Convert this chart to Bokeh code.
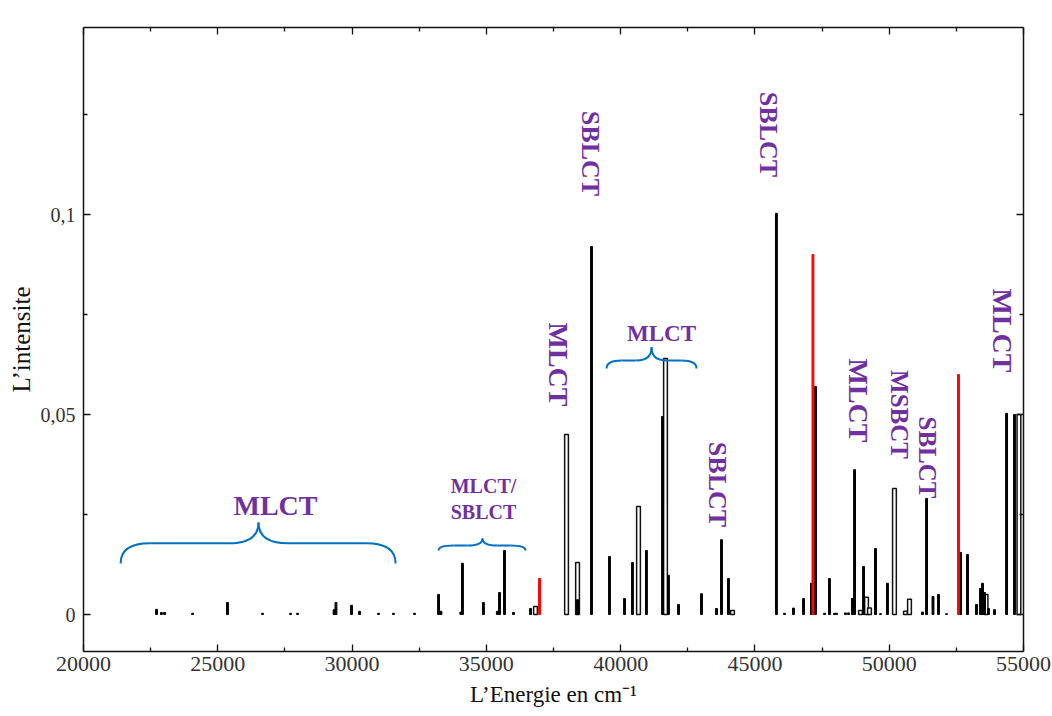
import math
from bokeh.plotting import figure
from bokeh.models import LinearAxis, FixedTicker, Range1d, ColumnDataSource, CustomJSTickFormatter
from bokeh.core.properties import value
from bokeh.embed import file_html
from bokeh.resources import INLINE

# ---------------- data ----------------
black_E = [22720, 22900, 23020, 24060, 25360, 26665, 27710, 27970, 29330, 29400,
           29980, 30275, 30985, 31540, 32325,
           33220, 33310, 34050, 34110, 34890, 35410, 35490, 35675, 36010, 36645,
           38395, 38915, 39585, 40145, 40440, 40960, 41560, 41780, 42155, 43010,
           43570, 43755, 44015,
           45800, 46100, 46435, 46810, 47105, 47255, 47590, 47775, 47965, 48040,
           48370, 48485, 48630, 48710, 49045, 49490, 49675, 49935, 51240, 51390,
           51630, 51835, 52135, 52655, 52915, 53250, 53400, 53475, 53550, 53695,
           53920, 54370, 54665]
black_I = [0.0013, 0.0005, 0.0005, 0.0003, 0.003, 0.0003, 0.0003, 0.0003, 0.0012, 0.003,
           0.0023, 0.0008, 0.0003, 0.0003, 0.0003,
           0.005, 0.0008, 0.0006, 0.0128, 0.003, 0.0008, 0.0055, 0.016, 0.0005, 0.0015,
           0.0037, 0.092, 0.0145, 0.004, 0.013, 0.016, 0.0495, 0.0098, 0.0025, 0.0052,
           0.0015, 0.0187, 0.009,
           0.1003, 0.0003, 0.0016, 0.004, 0.0078, 0.057, 0.0003, 0.009, 0.0003, 0.0003,
           0.0004, 0.0004, 0.004, 0.0362, 0.012, 0.0165, 0.0002, 0.0078, 0.0006, 0.029,
           0.0045, 0.005, 0.0002, 0.0155, 0.015, 0.0025, 0.0065, 0.0078, 0.0055, 0.0015,
           0.0012, 0.0503, 0.05]

open_E = [36830, 37985, 38395, 40665, 41670, 44165, 48930, 49155, 49265, 50195,
          50605, 50755, 53605, 54830]
open_I = [0.002, 0.045, 0.013, 0.027, 0.064, 0.001, 0.001, 0.0043, 0.0016, 0.0315,
          0.0008, 0.0038, 0.005, 0.05]

red_E = [36980, 47160, 52580]
red_I = [0.009, 0.09, 0.06]

x_ticks = [20000, 25000, 30000, 35000, 40000, 45000, 50000, 55000]
x_minor = [22500, 27500, 32500, 37500, 42500, 47500, 52500]
y_ticks = [0, 0.05, 0.1]
y_minor = [0.025, 0.075, 0.125]

x_title = "L’Energie en cm⁻¹"
y_title = "L’intensite"

# annotation texts
ann_text = ["MLCT", "MLCT/\nSBLCT", "MLCT", "SBLCT", "MLCT", "SBLCT", "SBLCT",
            "MLCT", "MSBCT", "SBLCT", "MLCT"]
ann_x = [27149, 34894, 37686, 38878, 41521, 43607, 45505, 48856, 50383, 51426, 54218]
ann_y = [0.02725, 0.0288, 0.0625, 0.11525, 0.07025, 0.0325, 0.12, 0.0535, 0.05, 0.03925, 0.071]
ann_rot = [0, 0, 1, 1, 0, 1, 1, 1, 1, 1, 1]
ann_size = ["28px", "20px", "28px", "26px", "23px", "26px", "26px", "28px", "25px", "25px", "28px"]

# braces: left, right, centre, end y, mid y, tip y, curl length
br_l = [21380, 33220, 39475]
br_r = [31620, 36460, 42825]
br_c = [26515, 34855, 41150]
br_end = [0.01275, 0.0160, 0.0615]
br_mid = [0.0178, 0.01725, 0.0635]
br_tip = [0.023, 0.0190, 0.0668]
br_d = [1100, 560, 560]

# ---------------- figure ----------------
p = figure(width=1052, height=716, output_backend="svg", toolbar_location=None,
           x_range=Range1d(20000, 55000), y_range=Range1d(-0.00925, 0.14675),
           x_axis_location=None, y_axis_location=None,
           min_border_left=83, min_border_right=29, min_border_top=27, min_border_bottom=65)
p.grid.visible = False
p.outline_line_color = None
p.background_fill_color = "white"
p.border_fill_color = "white"

FONT = "Liberation Serif"

def style_axis(ax, show, fs="22px"):
    ax.major_tick_in = 7
    ax.major_tick_out = 0
    ax.minor_tick_in = 4
    ax.minor_tick_out = 0
    ax.axis_line_color = "#111111"
    ax.axis_line_width = 1.5
    ax.major_tick_line_color = "#111111"
    ax.minor_tick_line_color = "#111111"
    ax.major_tick_line_width = 1.3
    ax.minor_tick_line_width = 1.3
    if show:
        ax.major_label_text_font = FONT
        ax.major_label_text_font_size = fs
        ax.major_label_text_color = "#333333"
        ax.axis_label_text_font = FONT
        ax.axis_label_text_font_style = "normal"
        ax.axis_label_text_color = "#111111"
    else:
        ax.formatter = CustomJSTickFormatter(code="return '';")
        ax.major_label_standoff = 0

xb = LinearAxis(ticker=FixedTicker(ticks=x_ticks, minor_ticks=x_minor))
style_axis(xb, True, "22px")
xb.major_label_standoff = 5
xb.axis_label = x_title
xb.axis_label_text_font_size = "23px"
xb.axis_label_standoff = 8

xt = LinearAxis(ticker=FixedTicker(ticks=x_ticks, minor_ticks=x_minor))
style_axis(xt, False)

yl = LinearAxis(ticker=FixedTicker(ticks=y_ticks, minor_ticks=y_minor),
                formatter=CustomJSTickFormatter(code="return tick.toString().replace('.', ',');"))
style_axis(yl, True, "20px")
yl.major_label_standoff = 8
yl.axis_label = y_title
yl.axis_label_text_font_size = "25px"
yl.axis_label_standoff = 3

yr = LinearAxis(ticker=FixedTicker(ticks=y_ticks, minor_ticks=y_minor))
style_axis(yr, False)

p.add_layout(xb, "below")
p.add_layout(xt, "above")
p.add_layout(yl, "left")
p.add_layout(yr, "right")

# bars
p.vbar(x=open_E, top=open_I, bottom=0, width=140, fill_color="white",
       line_color="#111111", line_width=1.5)
p.vbar(x=black_E, top=black_I, bottom=0, width=70, fill_color="black",
       line_color="black", line_width=1)
p.vbar(x=red_E, top=red_I, bottom=0, width=70, fill_color="#ff0000",
       line_color="#ff0000", line_width=1)

# braces
for i in range(len(br_l)):
    l, r, c, ye, ym, yt, d = br_l[i], br_r[i], br_c[i], br_end[i], br_mid[i], br_tip[i], br_d[i]
    p.quadratic(x0=[l, r], y0=[ye, ye], x1=[l + d, r - d], y1=[ym, ym],
                cx=[l, r], cy=[ym, ym], line_color="#0070C0", line_width=2)
    p.segment(x0=[l + d, c + d], y0=[ym, ym], x1=[c - d, r - d], y1=[ym, ym],
              line_color="#0070C0", line_width=2)
    p.quadratic(x0=[c - d, c + d], y0=[ym, ym], x1=[c, c], y1=[yt, yt],
                cx=[c, c], cy=[ym, ym], line_color="#0070C0", line_width=2)

# annotations
src = ColumnDataSource(dict(x=ann_x, y=ann_y, text=ann_text,
                            angle=[-math.pi / 2 * r for r in ann_rot], size=ann_size))
p.text(x="x", y="y", text="text", angle="angle", source=src,
       text_font=value(FONT), text_font_style="bold", text_font_size="size",
       text_color="#7030A0", text_align="center", text_baseline="middle")

open("out.html", "w").write(file_html(p, INLINE))
